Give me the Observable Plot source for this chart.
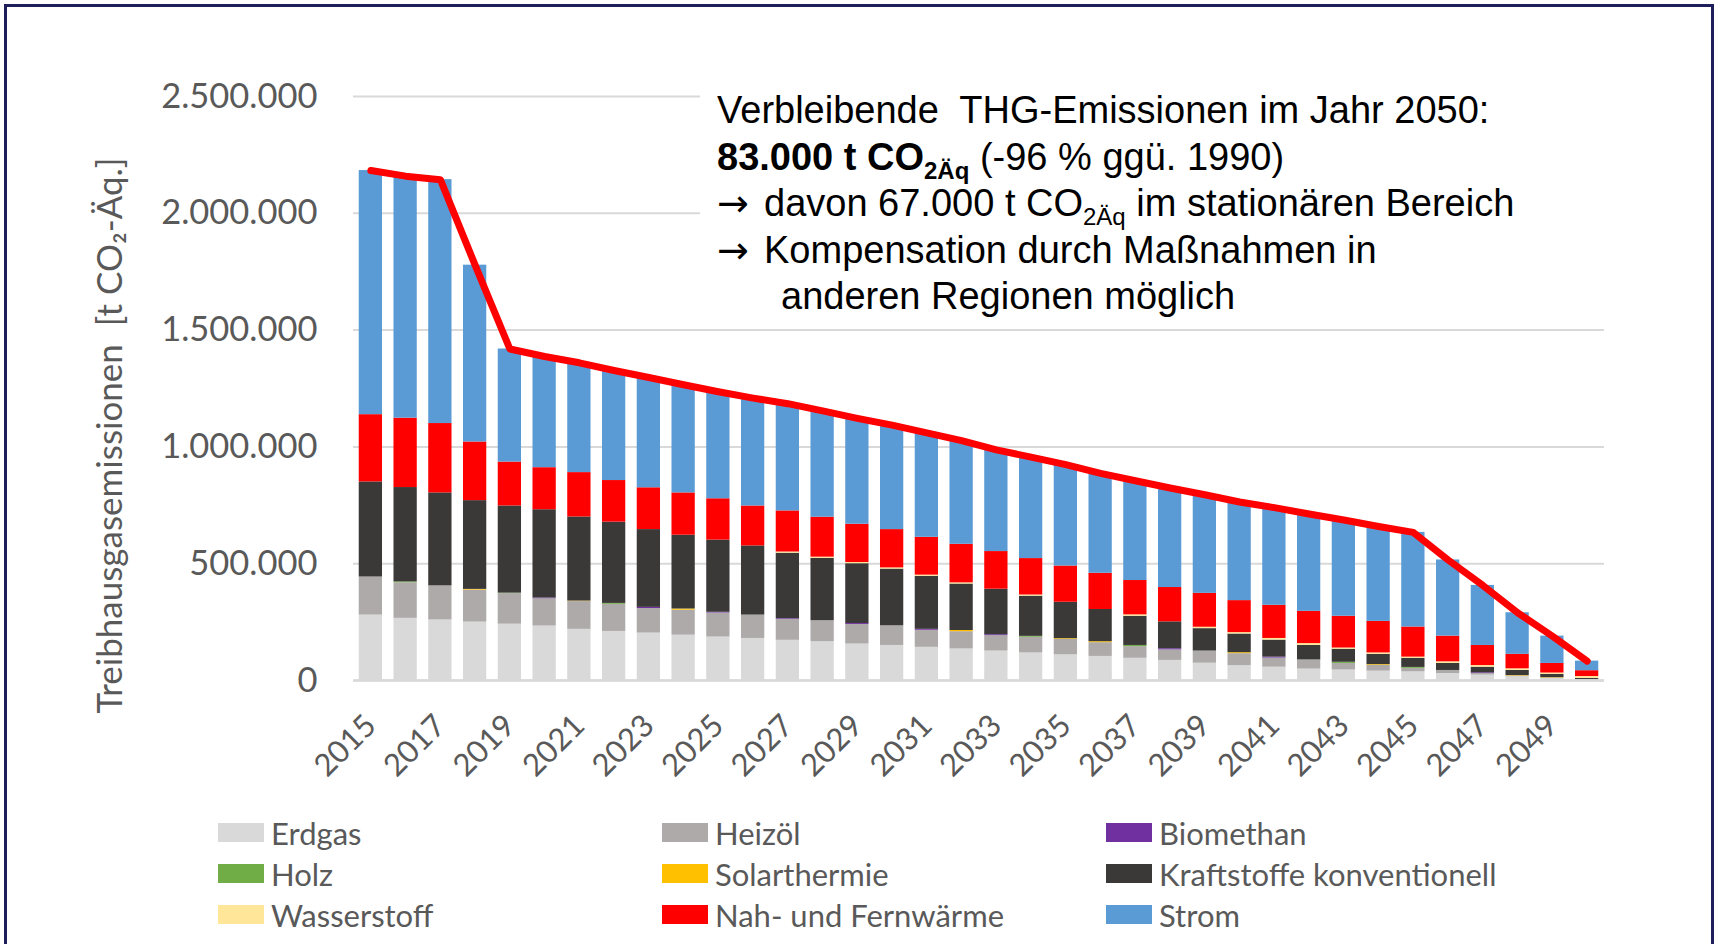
<!DOCTYPE html>
<html>
<head>
<meta charset="utf-8">
<script src="https://cdn.jsdelivr.net/npm/d3@7"></script>
<script src="https://cdn.jsdelivr.net/npm/@observablehq/plot@0.6"></script>
<style>
  html, body { margin: 0; padding: 0; width: 1717px; height: 944px; overflow: hidden; background: #fff; }
  #wrap { position: relative; width: 1717px; height: 944px; }
  #frame { position: absolute; left: 4px; top: 4px; width: 1704px; height: 1000px; border: 3px solid #1e1e5a; pointer-events: none; z-index: 5; }
  #note { position: absolute; left: 700px; top: 75px; width: 910px; height: 247px; background: #fff;
          font-family: "Liberation Sans", Arial, sans-serif; font-size: 38px; color: #000;
          padding: 12px 0 0 17px; box-sizing: border-box; white-space: nowrap; z-index: 3; }
  #note > div { height: 46.5px; line-height: 46.5px; }
  #note .sub { font-size: 24px; position: relative; top: 9px; line-height: 0; }
  #note .arr { font-family: "DejaVu Sans", sans-serif; font-size: 38px; line-height: 0; display: inline-block; width: 47px; }
  #note .ind { padding-left: 64px; }
  #legend { position: absolute; left: 218px; top: 812px; display: grid; grid-template-columns: 444px 444px 444px;
            grid-auto-rows: 41px; font-family: Lato, sans-serif; font-size: 31px; color: #595959; }
  #legend .item { display: flex; align-items: center; }
  #legend .sw { width: 46px; height: 19px; margin-right: 7px; flex: none; }
  #chart { position: absolute; left: 0; top: 0; }
</style>
</head>
<body>
<div id="wrap">
  <div id="chart"></div>
  <div id="note">
    <div>Verbleibende&nbsp; THG-Emissionen im Jahr 2050:</div>
    <div><b>83.000 t CO<span class="sub">2Äq</span></b> (-96 % ggü. 1990)</div>
    <div><span class="arr">→</span>davon 67.000 t CO<span class="sub">2Äq</span> im stationären Bereich</div>
    <div><span class="arr">→</span>Kompensation durch Maßnahmen in</div>
    <div class="ind">anderen Regionen möglich</div>
  </div>
  <div id="legend"></div>
  <div id="frame"></div>
</div>
<script>
const years = [2015,2016,2017,2018,2019,2020,2021,2022,2023,2024,2025,2026,2027,2028,2029,2030,2031,2032,2033,2034,2035,2036,2037,2038,2039,2040,2041,2042,2043,2044,2045,2046,2047,2048,2049,2050];
const xTicks = [2015,2017,2019,2021,2023,2025,2027,2029,2031,2033,2035,2037,2039,2041,2043,2045,2047,2049];
const yTicks = [0, 500000, 1000000, 1500000, 2000000, 2500000];

const seriesNames = ["Erdgas","Heizöl","Biomethan","Holz","Solarthermie","Kraftstoffe konventionell","Wasserstoff","Nah- und Fernwärme","Strom"];
const seriesColors = ["#d9d9d9","#aeaaaa","#7030a0","#70ad47","#ffc000","#3b3838","#ffe699","#ff0000","#5b9bd5"];
const legendOrder = ["Erdgas","Heizöl","Biomethan","Holz","Solarthermie","Kraftstoffe konventionell","Wasserstoff","Nah- und Fernwärme","Strom"];

const erdgas =      [280000,266000,259000,250000,241000,233000,219000,210000,203000,194000,186000,180000,172000,166000,156000,150000,142000,135000,126000,118000,110000,103000,95000,86000,74000,64000,57000,49000,45000,40000,37000,30000,23000,16000,9000,3000];
const heizoel =     [163000,152000,146000,137000,131000,117000,119000,116000,105000,107000,103000,100000,90000,90000,84000,84000,73000,74000,66000,67000,66000,59000,50000,45000,52000,51000,39000,39000,28000,25000,15000,13000,7000,3000,1000,1000];
const biomethan =   [0,0,0,0,0,3000,0,0,5000,0,3000,0,3000,0,4000,0,4000,0,4000,0,0,0,0,5000,0,0,4000,0,0,0,0,0,3000,0,0,0];
const holz =        [0,4000,0,0,2000,0,0,4000,0,0,0,0,0,0,0,0,0,0,0,4000,0,0,5000,0,0,0,0,0,5000,0,4000,0,0,0,0,0];
const solar =       [0,0,0,3000,0,0,2000,0,0,5000,0,0,0,0,0,0,0,5000,0,0,3000,4000,0,0,0,4000,0,0,0,3000,0,0,0,2000,2000,0];
const kraftstoffe = [407000,404000,398000,380000,373000,378000,360000,348000,333000,316000,309000,296000,280000,267000,256000,243000,227000,199000,195000,172000,156000,138000,125000,115000,96000,80000,73000,62000,56000,44000,39000,30000,24000,22000,14000,5000];
const wasserstoff = [0,0,0,0,0,0,0,0,0,0,0,0,5000,5000,5000,5000,5000,5000,0,5000,0,0,6000,0,6000,6000,7000,8000,5000,6000,5000,7000,7000,7000,6000,8000];
const fernwaerme =  [288000,297000,297000,251000,188000,180000,190000,178000,179000,181000,177000,171000,176000,171000,164000,164000,162000,165000,161000,156000,155000,155000,147000,147000,145000,137000,142000,138000,136000,135000,129000,110000,86000,62000,41000,25000];
const strom =       [1045000,1036000,1044000,757000,484000,476000,470000,471000,472000,463000,458000,462000,459000,455000,453000,447000,447000,444000,435000,434000,434000,428000,427000,426000,422000,422000,418000,417000,412000,406000,405000,326000,257000,178000,117000,41000];

const seriesValues = [erdgas, heizoel, biomethan, holz, solar, kraftstoffe, wasserstoff, fernwaerme, strom];
const yTitle = "Treibhausgasemissionen  [t CO₂-Äq.]";

const table = [];
years.forEach((yr, i) => seriesNames.forEach((s, j) => table.push({year: yr, series: s, value: seriesValues[j][i]})));
const totals = years.map((yr, i) => ({year: yr, total: d3.sum(seriesValues, v => v[i])}));

const fmt = d3.formatLocale({decimal: ",", thousands: ".", grouping: [3], currency: ["", "€"]}).format(",d");

const chart = Plot.plot({
  width: 1717,
  height: 800,
  marginTop: 96,
  marginBottom: 120,
  marginLeft: 353,
  marginRight: 113,
  style: {fontFamily: "Lato, sans-serif", color: "#595959", background: "transparent"},
  x: {type: "band", domain: years, paddingInner: 0.33, paddingOuter: 0.165, round: false},
  y: {domain: [0, 2500000]},
  color: {domain: seriesNames, range: seriesColors},
  marks: [
    Plot.gridY(yTicks, {stroke: "#d9d9d9", strokeOpacity: 1, strokeWidth: 2}),
    Plot.barY(table, {x: "year", y: "value", fill: "series", order: seriesNames}),
    Plot.ruleY([0], {stroke: "#d9d9d9", strokeWidth: 2.5}),
    Plot.line(totals, {x: "year", y: "total", stroke: "#ff0000", strokeWidth: 7, strokeLinejoin: "round", strokeLinecap: "round"}),
    Plot.axisY(yTicks, {tickSize: 0, tickPadding: 36, fontSize: 34.5, tickFormat: fmt, label: null, fill: "#595959"}),
    Plot.axisX(xTicks, {tickSize: 0, tickRotate: -45, fontSize: 31, tickPadding: 40, tickFormat: d => String(d), label: null, fill: "#595959"}),
    Plot.text([yTitle], {text: d => d, frameAnchor: "left", textAnchor: "middle", rotate: -90, dx: -243, dy: 47, fontSize: 35, fill: "#595959"})
  ]
});
document.getElementById("chart").appendChild(chart);

const legend = document.getElementById("legend");
legendOrder.forEach(name => {
  const item = document.createElement("div");
  item.className = "item";
  const sw = document.createElement("span");
  sw.className = "sw";
  sw.style.background = seriesColors[seriesNames.indexOf(name)];
  const lab = document.createElement("span");
  lab.textContent = name;
  item.appendChild(sw);
  item.appendChild(lab);
  legend.appendChild(item);
});
</script>
</body>
</html>
